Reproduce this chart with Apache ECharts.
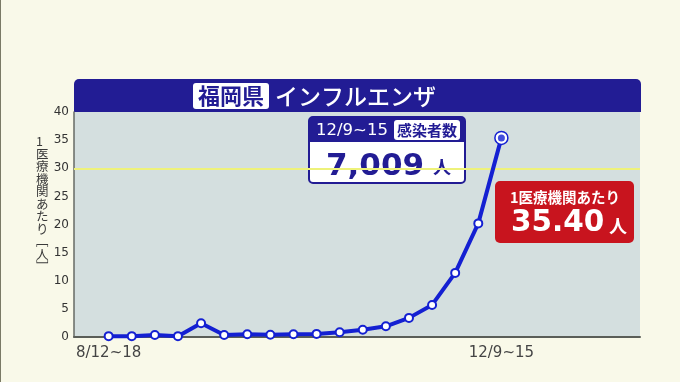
<!DOCTYPE html>
<html><head><meta charset="utf-8">
<script src="https://cdn.jsdelivr.net/npm/echarts@6/dist/echarts.min.js"></script>
<style>
html,body{margin:0;padding:0;background:#f9f9e9;}
#c{width:680px;height:382px;box-sizing:border-box;border-left:1px solid #7a7a66;}
</style></head>
<body><div id="c"></div>
<script>
const weeks = ['8/12~18','8/19~25','8/26~9/1','9/2~8','9/9~15','9/16~22','9/23~29','9/30~10/6','10/7~13','10/14~20','10/21~27','10/28~11/3','11/4~10','11/11~17','11/18~24','11/25~12/1','12/2~8','12/9~15'];
const perClinic = [0.15,0.15,0.35,0.15,2.45,0.35,0.5,0.4,0.5,0.55,0.85,1.3,1.9,3.4,5.7,11.4,20.2,35.4];
const yTicks = [0,5,10,15,20,25,30,35,40];
const alertLevel = 30;
const prefName = '福岡県';
const diseaseName = 'インフルエンザ';
const yTitle = ['1','医','療','機','関','あ','た','り','﹇','人','﹈'];
const latestWeek = '12/9~15';
const latestCasesLabel = '感染者数';
const latestCases = '7,009';
const perClinicLabel = '1医療機関あたり';
const latestPerClinic = '35.40';

const NAVY = '#221c94', BLUE = '#1420d2', RED = '#c8141e';
const JP = '"Noto Sans CJK JP", "Noto Sans", sans-serif';
const NUM = '"DejaVu Sans", sans-serif';
const last = perClinic.length - 1;

const lineData = perClinic.map((v, i) => i === last
  ? {value: [i, v], symbolSize: 13, itemStyle: {color: '#fff', borderColor: BLUE, borderWidth: 1.5}}
  : [i, v]);

const chart = echarts.init(document.getElementById('c'));
chart.setOption({
  animation: false,
  backgroundColor: '#f9f9e9',
  grid: {left: 73, right: 40, top: 112, bottom: 45, show: true, backgroundColor: '#d4dfdf', borderWidth: 0},
  xAxis: {
    type: 'value', min: -1.5, max: 23,
    splitLine: {show: false},
    axisLine: {show: true, lineStyle: {color: '#5a5e58', width: 2}},
    axisTick: {show: false},
    axisLabel: {
      customValues: [0, last],
      formatter: v => weeks[Math.round(v)] || '',
      color: '#444', fontSize: 15, fontFamily: NUM, margin: 9
    }
  },
  yAxis: {
    type: 'value', min: yTicks[0], max: yTicks[yTicks.length - 1], interval: 5,
    splitLine: {show: false},
    axisLine: {show: true, onZero: false, lineStyle: {color: '#666a64', width: 1.5}},
    axisTick: {show: false},
    axisLabel: {color: '#333', fontSize: 12, fontFamily: NUM, margin: 5}
  },
  series: [
    {
      type: 'line', data: lineData, z: 3,
      lineStyle: {color: BLUE, width: 4},
      symbol: 'circle', symbolSize: 8,
      itemStyle: {color: '#fff', borderColor: BLUE, borderWidth: 2},
      markLine: {
        silent: true, symbol: 'none', label: {show: false},
        lineStyle: {color: '#eef27a', width: 2, type: 'solid'},
        data: [{yAxis: alertLevel}], z: 1
      }
    },
    {
      type: 'scatter', z: 4, data: [[last, perClinic[last]]],
      symbol: 'circle', symbolSize: 7, itemStyle: {color: BLUE}
    }
  ],
  graphic: [
    {type: 'text', left: 35, top: 135, style: {text: yTitle.join('\n'), font: '12.5px ' + JP, fill: '#3a3a3a', lineHeight: 12.5, align: 'center'}},
    {type: 'rect', shape: {x: 73, y: 79, width: 567, height: 33, r: [5, 5, 0, 0]}, style: {fill: NAVY}},
    {type: 'rect', shape: {x: 192, y: 83, width: 76, height: 26, r: 3}, style: {fill: '#fff'}},
    {type: 'text', x: 230, y: 96, style: {text: prefName, font: 'bold 22px ' + JP, fill: NAVY, align: 'center', verticalAlign: 'middle'}},
    {type: 'text', x: 274, y: 96, style: {text: diseaseName, font: '500 23px ' + JP, fill: '#fff', align: 'left', verticalAlign: 'middle'}},

    {type: 'rect', shape: {x: 308, y: 117, width: 156, height: 66, r: 4}, style: {fill: '#fff', stroke: NAVY, lineWidth: 2}},
    {type: 'rect', shape: {x: 308, y: 117, width: 156, height: 25, r: [4, 4, 0, 0]}, style: {fill: NAVY}},
    {type: 'text', x: 315, y: 131, style: {text: latestWeek, font: '16.5px ' + NUM, fill: '#fff', align: 'left', verticalAlign: 'middle'}},
    {type: 'rect', shape: {x: 393, y: 120, width: 66, height: 20, r: 3}, style: {fill: '#fff'}},
    {type: 'text', x: 426, y: 130, style: {text: latestCasesLabel, font: 'bold 15px ' + JP, fill: NAVY, align: 'center', verticalAlign: 'middle'}},
    {type: 'text', x: 325, y: 166.5, style: {text: latestCases, font: 'bold 31px ' + NUM, fill: NAVY, align: 'left', verticalAlign: 'middle'}},
    {type: 'text', x: 432, y: 167, style: {text: '人', font: 'bold 18px ' + JP, fill: NAVY, align: 'left', verticalAlign: 'middle'}},

    {type: 'rect', shape: {x: 494, y: 181, width: 139, height: 62, r: 5}, style: {fill: RED}},
    {type: 'text', x: 564, y: 197, style: {text: perClinicLabel, font: 'bold 14.5px ' + JP, fill: '#fff', align: 'center', verticalAlign: 'middle'}},
    {type: 'text', x: 510, y: 223, style: {text: latestPerClinic, font: 'bold 29.5px ' + NUM, fill: '#fff', align: 'left', verticalAlign: 'middle'}},
    {type: 'text', x: 608, y: 226, style: {text: '人', font: 'bold 18px ' + JP, fill: '#fff', align: 'left', verticalAlign: 'middle'}}
  ]
});
</script>
</body></html>
